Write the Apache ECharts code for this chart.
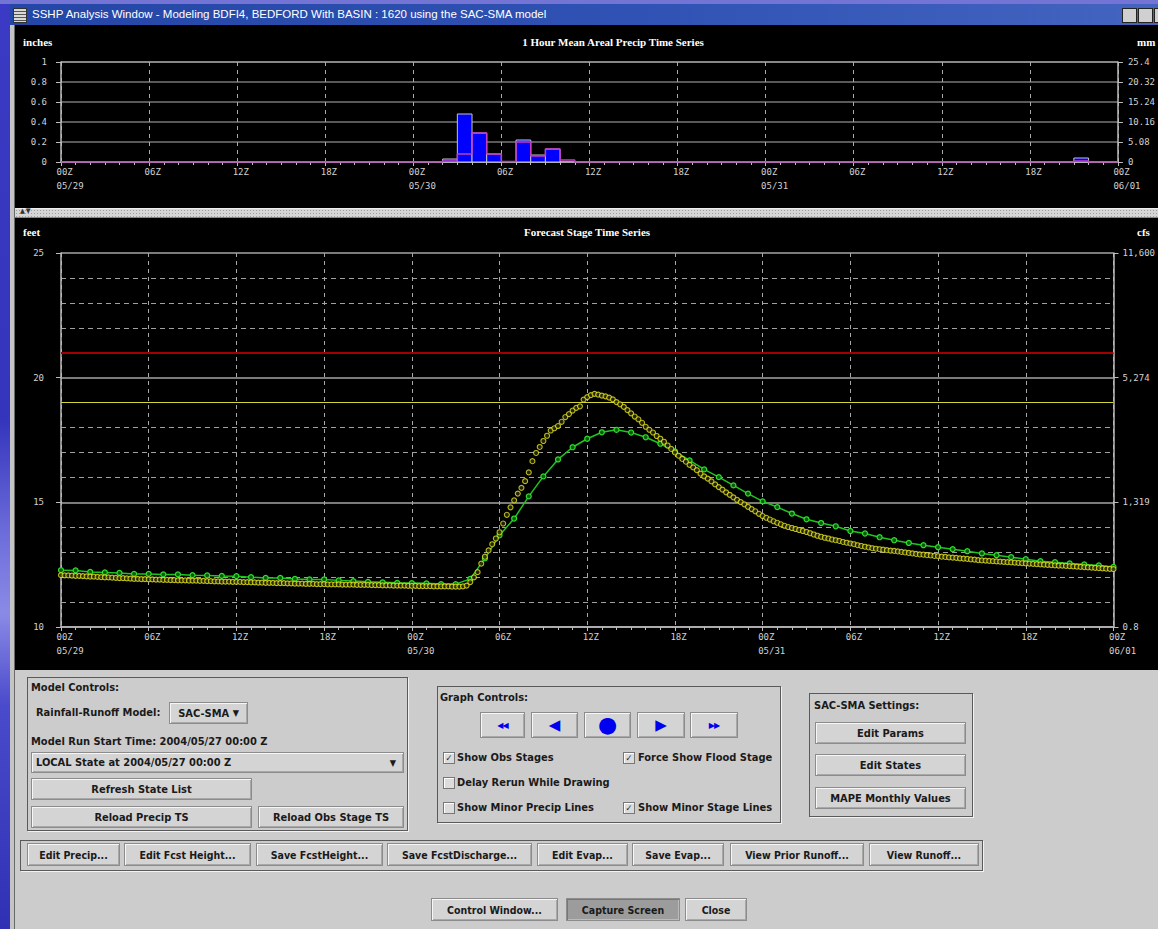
<!DOCTYPE html>
<html><head><meta charset="utf-8">
<script src="https://cdn.jsdelivr.net/npm/echarts@6/dist/echarts.min.js"></script>
<style>
body{margin:0;width:1158px;height:929px;overflow:hidden;position:relative;background:#cccccc;font-family:"DejaVu Sans Condensed","DejaVu Sans",sans-serif;font-stretch:condensed;color:#1a1a1a;}
.abs{position:absolute;}
#deskL{left:0;top:0;width:10px;height:929px;background:linear-gradient(to bottom,#3a3ac4 0%,#3434bc 45%,#6f6fdc 58%,#8a8ae6 66%,#4a4acc 76%,#3030b4 100%);}
#deskT{left:0;top:0;width:1158px;height:4px;background:#7474d4;}
#title{left:10px;top:4px;width:1148px;height:21px;background:linear-gradient(to right,#2446a6,#2f52b4 55%,#4464c0);color:#fff;font-family:"Liberation Sans",Arial,sans-serif;font-stretch:normal;font-size:11.5px;line-height:21px;}
#title span{position:absolute;left:22px;}
#icon{left:13px;top:8px;width:12px;height:13px;background:repeating-linear-gradient(to bottom,#d8d8d8 0 2px,#555 2px 3px);border:1px solid #333;}
.wb{top:8px;width:13px;height:13px;background:#d0d0d0;border:1px solid #222;}
#frameL{left:10px;top:25px;width:4px;height:904px;background:#c4c4c4;border-right:1px solid #6a6a6a;}
#chart{left:15px;top:25px;width:1143px;height:645px;background:#000;}
#divider{left:15px;top:208px;width:1143px;height:8px;background-color:#d6d6d6;background-image:radial-gradient(#a0a0a0 0.6px,transparent 0.9px);background-size:3px 3px;border-top:1px solid #eee;border-bottom:1px solid #888;}
#divider span{position:absolute;left:5px;top:-2px;font-size:7px;color:#333;font-family:"DejaVu Sans",sans-serif;letter-spacing:1px;}
.panel{position:absolute;border:1px solid #5a5a5a;box-shadow:1px 1px 0 #f2f2f2;}
.lbl{position:absolute;font-weight:bold;font-size:11px;white-space:nowrap;line-height:14px;}
.btn{position:absolute;box-sizing:border-box;background:#d4d4d4;border:1px solid #8c8c8c;box-shadow:inset 1px 1px 0 #f6f6f6,inset -1px -1px 0 #a8a8a8;display:flex;align-items:center;justify-content:center;font-weight:bold;font-size:11px;white-space:nowrap;}
.nar{font-family:"Liberation Sans Narrow","DejaVu Sans Condensed",sans-serif;font-stretch:condensed;font-size:10.5px;}
.blue{color:#0000f0;font-family:"DejaVu Sans",sans-serif;font-stretch:normal;}
.cb{position:absolute;width:10px;height:10px;border:1px solid #777;background:#dcdcdc;box-shadow:inset 1px 1px 0 #fff;font-size:9px;line-height:10px;text-align:center;font-family:"DejaVu Sans",sans-serif;font-weight:bold;}
</style></head><body>
<div id="deskL" class="abs"></div>
<div id="deskT" class="abs"></div>
<div id="title" class="abs"><span>SSHP Analysis Window - Modeling BDFI4, BEDFORD With BASIN : 1620 using the SAC-SMA model</span></div>
<div id="icon" class="abs"></div>
<div class="abs wb" style="left:1122px;"></div>
<div class="abs wb" style="left:1138px;"></div>
<div class="abs wb" style="left:1154px;"></div>
<div id="frameL" class="abs"></div>
<div id="chart" class="abs"></div>
<div id="divider" class="abs"><span>▲▼</span></div>

<div class="panel" style="left:27px;top:677px;width:379px;height:152px;"></div>
<div class="lbl" style="left:31px;top:681px;">Model Controls:</div>
<div class="lbl" style="left:36px;top:706px;">Rainfall-Runoff Model:</div>
<div class="btn" style="left:169px;top:702px;width:79px;height:22px;">SAC-SMA&nbsp;<span style="font-size:9px;font-family:'DejaVu Sans'">▼</span></div>
<div class="lbl" style="left:31px;top:735px;">Model Run Start Time: 2004/05/27 00:00 Z</div>
<div class="btn" style="left:31px;top:752px;width:373px;height:21px;justify-content:flex-start;padding-left:4px;">LOCAL State at 2004/05/27 00:00 Z<span style="position:absolute;right:7px;font-size:9px;font-family:'DejaVu Sans'">▼</span></div>
<div class="btn" style="left:31px;top:778px;width:221px;height:22px;">Refresh State List</div>
<div class="btn" style="left:31px;top:806px;width:221px;height:22px;">Reload Precip TS</div>
<div class="btn" style="left:258px;top:806px;width:146px;height:22px;">Reload Obs Stage TS</div>

<div class="panel" style="left:437px;top:686px;width:342px;height:135px;"></div>
<div class="lbl" style="left:440px;top:691px;">Graph Controls:</div>
<div class="btn" style="left:480px;top:712px;width:45px;height:26px;"><span class="blue" style="font-size:8px;letter-spacing:-1px;">◀◀</span></div>
<div class="btn" style="left:531px;top:712px;width:47px;height:26px;"><span class="blue" style="font-size:15px;">◀</span></div>
<div class="btn" style="left:584px;top:712px;width:47px;height:26px;"><span class="blue" style="font-size:22px;line-height:20px;">●</span></div>
<div class="btn" style="left:637px;top:712px;width:48px;height:26px;"><span class="blue" style="font-size:15px;">▶</span></div>
<div class="btn" style="left:690px;top:712px;width:48px;height:26px;"><span class="blue" style="font-size:8px;letter-spacing:-1px;">▶▶</span></div>
<div class="cb" style="left:443px;top:752px;">✓</div><div class="lbl" style="left:457px;top:751px;">Show Obs Stages</div>
<div class="cb" style="left:623px;top:752px;">✓</div><div class="lbl" style="left:638px;top:751px;">Force Show Flood Stage</div>
<div class="cb" style="left:443px;top:777px;"></div><div class="lbl" style="left:457px;top:776px;">Delay Rerun While Drawing</div>
<div class="cb" style="left:443px;top:802px;"></div><div class="lbl" style="left:457px;top:801px;">Show Minor Precip Lines</div>
<div class="cb" style="left:623px;top:802px;">✓</div><div class="lbl" style="left:638px;top:801px;">Show Minor Stage Lines</div>

<div class="panel" style="left:809px;top:693px;width:162px;height:122px;"></div>
<div class="lbl" style="left:814px;top:699px;">SAC-SMA Settings:</div>
<div class="btn" style="left:815px;top:722px;width:151px;height:22px;">Edit Params</div>
<div class="btn" style="left:815px;top:754px;width:151px;height:22px;">Edit States</div>
<div class="btn" style="left:815px;top:787px;width:151px;height:22px;">MAPE Monthly Values</div>

<div class="panel" style="left:20px;top:840px;width:961px;height:29px;"></div>
<div class="btn nar" style="left:27px;top:843px;width:93px;height:23px;">Edit Precip...</div>
<div class="btn nar" style="left:124px;top:843px;width:127px;height:23px;">Edit Fcst Height...</div>
<div class="btn nar" style="left:256px;top:843px;width:127px;height:23px;">Save FcstHeight...</div>
<div class="btn nar" style="left:387px;top:843px;width:145px;height:23px;">Save FcstDischarge...</div>
<div class="btn nar" style="left:537px;top:843px;width:91px;height:23px;">Edit Evap...</div>
<div class="btn nar" style="left:632px;top:843px;width:92px;height:23px;">Save Evap...</div>
<div class="btn nar" style="left:730px;top:843px;width:134px;height:23px;">View Prior Runoff...</div>
<div class="btn nar" style="left:869px;top:843px;width:110px;height:23px;">View Runoff...</div>

<div class="btn nar" style="left:431px;top:898px;width:127px;height:23px;">Control Window...</div>
<div class="btn nar" style="left:566px;top:898px;width:114px;height:23px;background:#9c9c9c;box-shadow:inset 1px 1px 0 #777,inset -1px -1px 0 #bbb;">Capture Screen</div>
<div class="btn nar" style="left:685px;top:898px;width:62px;height:23px;">Close</div>

<script>
// ---- tick labels ----
const xTickLabels = ['00Z\n05/29','06Z','12Z','18Z','00Z\n05/30','06Z','12Z','18Z','00Z\n05/31','06Z','12Z','18Z','00Z\n06/01'];
const precipInchLabels = ['0','0.2','0.4','0.6','0.8','1'];
const precipMmLabels = ['0','5.08','10.16','15.24','20.32','25.4'];
const stageFeetLabels = ['10','15','20','25'];
const cfsLabels = ['0.8','1,319','5,274','11,600'];

// ---- 1 hour mean areal precip (hour index from 00Z 05/29, inches) ----
const precipHours  = [26, 27, 28, 29, 31, 32, 33, 69];
const precipInches = [0.03, 0.48, 0.29, 0.08, 0.22, 0.07, 0.13, 0.04];
const mapHours  = [26, 27, 28, 29, 30, 31, 32, 33, 34, 69];
const mapInches = [0.01, 0.08, 0.29, 0.08, 0.005, 0.20, 0.06, 0.13, 0.02, 0.01];

// ---- forecast stage (hourly, feet) ----
const fcstStage = [
 12.28,12.27,12.21,12.19,12.17,12.13,12.13,12.11,12.11,12.08,12.07,12.05,
 12.04,12.00,11.97,11.97,11.93,11.91,11.91,11.87,11.84,11.81,11.79,11.77,
 11.76,11.75,11.72,11.72,11.93,12.75,13.68,14.35,15.24,16.04,16.72,17.21,
 17.55,17.81,17.91,17.80,17.61,17.35,17.04,16.68,16.32,16.01,15.68,15.35,
 15.04,14.81,14.55,14.32,14.17,14.04,13.85,13.75,13.60,13.48,13.37,13.28,
 13.20,13.12,13.04,12.95,12.88,12.80,12.72,12.64,12.60,12.55,12.51,12.47,
 12.41];

// ---- observed stage (every 15 minutes, feet) ----
const obsStage = [
 12.08,12.07,12.07,12.06, 12.05,12.05,12.04,12.03, 12.02,12.02,12.01,12.00, 11.99,11.99,11.98,11.97,
 11.96,11.96,11.95,11.94, 11.93,11.93,11.92,11.92, 11.91,11.91,11.90,11.90, 11.89,11.89,11.88,11.88,
 11.87,11.87,11.87,11.86, 11.86,11.86,11.85,11.85, 11.84,11.84,11.83,11.83, 11.82,11.82,11.82,11.81,
 11.81,11.81,11.80,11.80, 11.79,11.79,11.78,11.78, 11.77,11.77,11.77,11.76, 11.76,11.76,11.75,11.75,
 11.74,11.74,11.74,11.73, 11.73,11.73,11.72,11.72, 11.72,11.71,11.71,11.71, 11.71,11.70,11.70,11.70,
 11.70,11.69,11.69,11.69, 11.69,11.68,11.68,11.68, 11.67,11.67,11.67,11.66, 11.66,11.66,11.66,11.65,
 11.65,11.65,11.64,11.64, 11.64,11.64,11.63,11.63, 11.63,11.63,11.63,11.62, 11.62,11.62,11.63,11.66,
 11.80,11.99,12.20,12.54, 12.82,13.07,13.32,13.55, 13.80,14.15,14.50,14.80, 15.08,15.35,15.58,15.85,
 16.20,16.65,16.98,17.22, 17.46,17.67,17.88,17.97, 18.06,18.23,18.42,18.54, 18.68,18.79,18.85,19.12,
 19.22,19.30,19.35,19.32, 19.28,19.25,19.20,19.13, 19.02,18.93,18.83,18.70, 18.57,18.44,18.33,18.19,
 18.03,17.91,17.80,17.66, 17.55,17.43,17.28,17.14, 17.00,16.87,16.74,16.63, 16.50,16.40,16.29,16.15,
 16.04,15.95,15.84,15.72, 15.61,15.51,15.40,15.30, 15.20,15.10,15.01,14.92, 14.82,14.73,14.64,14.54,
 14.45,14.38,14.31,14.24, 14.18,14.12,14.06,14.01, 13.97,13.93,13.89,13.85, 13.81,13.76,13.71,13.66,
 13.62,13.58,13.55,13.51, 13.48,13.45,13.41,13.38, 13.35,13.32,13.28,13.25, 13.22,13.19,13.16,13.14,
 13.12,13.10,13.08,13.06, 13.05,13.03,13.01,12.99, 12.97,12.95,12.93,12.91, 12.90,12.88,12.87,12.85,
 12.84,12.82,12.81,12.79, 12.78,12.77,12.75,12.74, 12.73,12.71,12.70,12.68, 12.67,12.66,12.65,12.64,
 12.63,12.62,12.61,12.60, 12.59,12.58,12.57,12.56, 12.55,12.54,12.53,12.52, 12.51,12.50,12.49,12.48,
 12.47,12.46,12.46,12.45, 12.44,12.43,12.42,12.41, 12.40,12.39,12.38,12.37, 12.36,12.35,12.34,12.33,
 12.32];

const actionStage = 19;
const floodStage = 21;

// ---- build series data ----
const barData = precipHours.map((h, i) => [h, precipInches[i]]);
const mapLine = [];
for (let h = 0; h <= 72; h++) {
  const k = mapHours.indexOf(h);
  mapLine.push([h, k >= 0 ? mapInches[k] : 0]);
}
const fcstData = fcstStage.map((v, h) => [h, v]);
const obsData = obsStage.map((v, i) => [i * 0.25, v]);

const LBL = '#d2d2d2';
const MONO = 'DejaVu Sans Mono';
function xAxisDef(gi) {
  return {
    type: 'value', gridIndex: gi, min: 0, max: 72, interval: 6,
    axisLine: {show: true, lineStyle: {color: '#bdbdbd', width: 1.5}},
    axisTick: {show: true, length: 4, lineStyle: {color: '#bdbdbd'}},
    minorTick: {show: true, splitNumber: 6, length: 3, lineStyle: {color: '#bdbdbd'}},
    splitLine: {show: true, lineStyle: {color: '#a8a8a8', type: [4, 4], width: 1}},
    axisLabel: {
      interval: 0, margin: 3, align: 'center',
      formatter: v => (xTickLabels[Math.round(v / 6)] || '').split('\n').map(s => '{t|' + s + '}').join('\n'),
      rich: {t: {width: 9, align: 'left', color: LBL, fontFamily: MONO, fontSize: 9, lineHeight: 14}}
    }
  };
}
function yAxisDef(gi, pos, min, max, interval, labels, margin, extra) {
  return Object.assign({
    type: 'value', gridIndex: gi, position: pos, min: min, max: max, interval: interval,
    axisLine: {show: true, lineStyle: {color: '#bdbdbd', width: 1.5}},
    axisTick: {show: true, length: 5, lineStyle: {color: '#bdbdbd'}},
    splitLine: {show: false},
    axisLabel: {margin: margin, color: LBL, fontFamily: MONO, fontSize: 9,
      formatter: v => labels[Math.round((v - min) / interval)]}
  }, extra || {});
}

const titleStyle = {fill: '#ffffff', font: 'bold 11px "Liberation Serif", serif', textVerticalAlign: 'middle'};
function txt(x, y, s, align) {
  return {type: 'text', x: x, y: y, style: Object.assign({text: s, textAlign: align || 'left'}, titleStyle)};
}

const chart = echarts.init(document.getElementById('chart'), null, {renderer: 'svg'});
chart.setOption({
  backgroundColor: '#000000',
  animation: false,
  grid: [
    {left: 46, top: 37, width: 1059, height: 100},
    {left: 46, top: 228, width: 1059, height: 374}
  ],
  xAxis: [xAxisDef(0), xAxisDef(1)],
  yAxis: [
    yAxisDef(0, 'left', 0, 1, 0.2, precipInchLabels, 14, {
      splitLine: {show: true, lineStyle: {color: ['#777777','#777777','#777777','#777777','#777777','#b4b4b4'], width: 1.5}}
    }),
    yAxisDef(0, 'right', 0, 1, 0.2, precipMmLabels, 10),
    yAxisDef(1, 'left', 10, 25, 5, stageFeetLabels, 17, {
      splitLine: {show: true, lineStyle: {color: '#a4a4a4', width: 1.5}},
      minorTick: {show: false, splitNumber: 5},
      minorSplitLine: {show: true, lineStyle: {color: '#a0a0a0', type: [5, 4], width: 1}}
    }),
    yAxisDef(1, 'right', 10, 25, 5, cfsLabels, 9)
  ],
  graphic: [
    txt(8, 17, 'inches'),
    txt(598, 17, '1 Hour Mean Areal Precip Time Series', 'center'),
    txt(1122, 17, 'mm'),
    txt(8, 207, 'feet'),
    txt(572, 207, 'Forecast Stage Time Series', 'center'),
    txt(1122, 207, 'cfs')
  ],
  series: [
    {
      type: 'custom', name: 'MAP', xAxisIndex: 0, yAxisIndex: 0, data: barData,
      encode: {x: 0, y: 1}, z: 2,
      renderItem: function (params, api) {
        const h = api.value(0), v = api.value(1);
        const p0 = api.coord([h, v]);
        const p1 = api.coord([h + 1, 0]);
        return {type: 'rect', shape: {x: p0[0], y: p0[1], width: p1[0] - p0[0], height: p1[1] - p0[1]},
          style: {fill: '#0000ff', stroke: '#c4c4c4', lineWidth: 1}};
      }
    },
    {
      type: 'line', name: 'MAP line', xAxisIndex: 0, yAxisIndex: 0, data: mapLine, step: 'end',
      symbol: 'none', z: 3, lineStyle: {color: '#c23cc2', width: 1.5}
    },
    {
      type: 'line', name: 'Forecast Stage', xAxisIndex: 1, yAxisIndex: 2, data: fcstData,
      symbol: 'circle', symbolSize: 5, z: 4,
      lineStyle: {color: '#1fc41f', width: 1.5},
      itemStyle: {color: '#0d5a0d', borderColor: '#2ee02e', borderWidth: 1.2},
      markLine: {
        silent: true, symbol: ['none', 'none'], label: {show: false}, animation: false,
        data: [
          {yAxis: actionStage, lineStyle: {color: '#d4d43a', width: 1.2, type: 'solid'}},
          {yAxis: floodStage, lineStyle: {color: '#a30000', width: 2, type: 'solid'}}
        ]
      }
    },
    {
      type: 'scatter', name: 'Observed Stage', xAxisIndex: 1, yAxisIndex: 2, data: obsData,
      symbol: 'circle', symbolSize: 5, z: 5,
      itemStyle: {color: '#2a2a00', borderColor: '#e6e626', borderWidth: 1.1}
    }
  ]
});
</script>
</body></html>
